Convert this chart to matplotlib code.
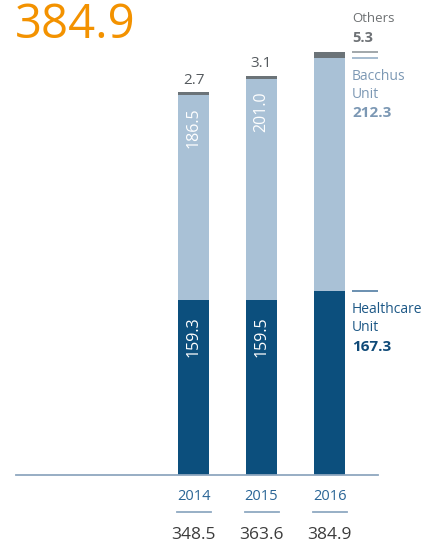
import matplotlib
matplotlib.use("Agg")
import matplotlib.pyplot as plt
from matplotlib.transforms import blended_transform_factory

plt.rcParams['font.family'] = ['Open Sans', 'DejaVu Sans']

# Revenue by segment (CZK millions)
years = ["2014", "2015", "2016"]
healthcare = [159.3, 159.5, 167.3]
bacchus = [186.5, 201.0, 212.3]
others = [2.7, 3.1, 5.3]
totals = [348.5, 363.6, 384.9]

C_HEALTH = "#0c4f7d"
C_BACCHUS = "#a9c1d6"
C_OTHERS = "#6b7378"
C_ORANGE = "#f39200"

W, H, DPI = 440, 551, 100
fig = plt.figure(figsize=(W / DPI, H / DPI), dpi=DPI)

# axes: baseline at 475 px from top, 1.0986 px per unit, bars 68 px apart
px_per_unit = 1.0986
base_px = 475
ymax = 400
left_px, right_px = 16, 378
bar_step = 68
first_center = 193.5
ax = fig.add_axes([left_px / W, (H - base_px) / H,
                   (right_px - left_px) / W, ymax * px_per_unit / H])
ax.set_ylim(0, ymax)
ax.set_xlim((left_px - first_center) / bar_step, (right_px - first_center) / bar_step)
for s in ("top", "left", "right"):
    ax.spines[s].set_visible(False)
ax.spines["bottom"].set_color("#8fa7bf")
ax.spines["bottom"].set_linewidth(1.3)
ax.set_xticks([])
ax.set_yticks([])
ax.patch.set_alpha(0)

x = list(range(len(years)))
bw = 31 / bar_step
bottom_b = healthcare
bottom_o = [h + b for h, b in zip(healthcare, bacchus)]
ax.bar(x, healthcare, width=bw, color=C_HEALTH, linewidth=0)
ax.bar(x, bacchus, width=bw, bottom=bottom_b, color=C_BACCHUS, linewidth=0)
ax.bar(x, others, width=bw, bottom=bottom_o, color=C_OTHERS, linewidth=0)

# in-bar values for the first two years, other values above the bars
for i in range(2):
    ax.annotate(f"{healthcare[i]:.1f}", (x[i], healthcare[i]), xytext=(0, -12),
                textcoords="offset points", rotation=90, ha="center", va="top",
                color="white", fontsize=11.5)
    ax.annotate(f"{bacchus[i]:.1f}", (x[i], bottom_o[i]), xytext=(0, -9),
                textcoords="offset points", rotation=90, ha="center", va="top",
                color="white", fontsize=11.5)
    ax.annotate(f"{others[i]:.1f}", (x[i], totals[i]), xytext=(0, 3),
                textcoords="offset points", ha="center", va="bottom",
                color="#555a5e", fontsize=11)

# legend column to the right of the last bar
last = x[-1]
lx = 16.2  # points right of bar centre
lw = 18.7  # legend rule length in points

def rule(yval, color):
    x0 = last + lx / 72 * DPI / bar_step
    x1 = x0 + lw / 72 * DPI / bar_step
    ax.plot([x0, x1], [yval, yval], color=color, lw=1.3, clip_on=False,
            solid_capstyle="butt")

rule(totals[-1], "#9aa0a4")
rule(bottom_o[-1], "#9fb6cc")
rule(healthcare[-1], "#5f87aa")

def label(yval, dy, text, color, bold=False, size=10.5):
    ax.annotate(text, (last, yval), xytext=(lx, dy), textcoords="offset points",
                ha="left", va="baseline", color=color, fontsize=size,
                fontweight="bold" if bold else "normal", annotation_clip=False)

label(totals[-1], 21.5, "Others", "#6e7173", size=9.5)
label(totals[-1], 7.5, f"{others[-1]:.1f}", "#6e7276", bold=True, size=10.5)
label(bottom_o[-1], -16, "Bacchus", "#7c98b4", size=10)
label(bottom_o[-1], -28.5, "Unit", "#7c98b4", size=10)
label(bottom_o[-1], -42.5, f"{bacchus[-1]:.1f}", "#7c98b4", bold=True, size=11)
label(healthcare[-1], -16, "Healthcare", "#1d5886", size=10)
label(healthcare[-1], -28.5, "Unit", "#1d5886", size=10)
label(healthcare[-1], -43, f"{healthcare[-1]:.1f}", "#0f4a78", bold=True, size=11)

# year labels, short rules and totals under the baseline
tr = blended_transform_factory(ax.transData, fig.dpi_scale_trans)
for i, yr in enumerate(years):
    ax.text(x[i], (H - 497) / DPI, yr, transform=tr, ha="center", va="center",
            color="#2a6596", fontsize=10.5)
    ax.plot([x[i] - 17 / bar_step, x[i] + 17 / bar_step], [(H - 512) / DPI] * 2,
            transform=tr, color="#8fa9c2", lw=1.3, clip_on=False)
    ax.text(x[i], (H - 535) / DPI, f"{totals[i]:.1f}", transform=tr,
            ha="center", va="center", color="#3c3c3c", fontsize=12.5)

# headline total
fig.text(15 / W, 1 - 38 / H, f"{totals[-1]:.1f}", ha="left", va="baseline",
         color=C_ORANGE, fontsize=34)

fig.savefig("out.png", dpi=DPI)
